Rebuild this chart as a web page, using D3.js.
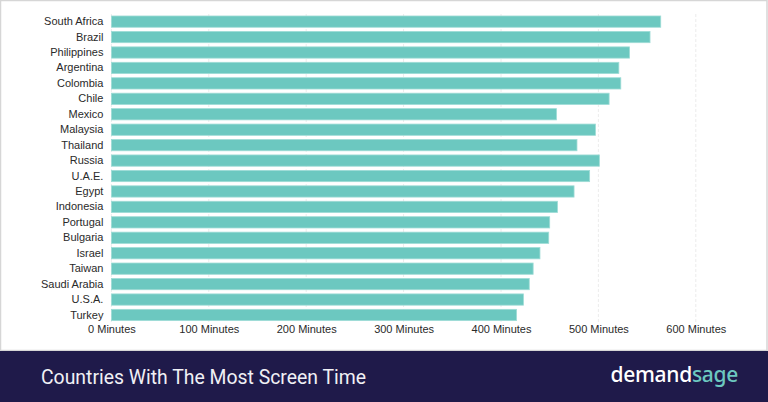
<!DOCTYPE html>
<html><head><meta charset="utf-8">
<script src="https://cdn.jsdelivr.net/npm/d3@7"></script>
<style>
html,body{margin:0;padding:0;background:#fff;}
svg{display:block;}
</style></head>
<body>
<svg id="chart" width="768" height="402"></svg>
<script>
const countries = ["South Africa","Brazil","Philippines","Argentina","Colombia","Chile","Mexico","Malaysia","Thailand","Russia","U.A.E.","Egypt","Indonesia","Portugal","Bulgaria","Israel","Taiwan","Saudi Arabia","U.S.A.","Turkey"];
const minutes = [564,553,532,521,523,511,457,497,478,501,491,475,458,450,449,440,433,429,423,416];
const tickValues = [0,100,200,300,400,500,600];
const tickLabels = ["0 Minutes","100 Minutes","200 Minutes","300 Minutes","400 Minutes","500 Minutes","600 Minutes"];
const title = "Countries With The Most Screen Time";
const brand = ["demand","sage"];

const W = 768, H = 402;
const svg = d3.select("#chart");
const font = "'Liberation Sans', Arial, Helvetica, sans-serif";

// frame
svg.append("rect").attr("x",0.5).attr("y",0.5).attr("width",W-1.5).attr("height",350)
  .attr("fill","#fff").attr("stroke","#d6d6d6").attr("stroke-width",1.5);

const x = d3.scaleLinear().domain([0,600]).range([111.4,695.8]);
const y = d3.scaleBand().domain(countries).range([13.9,322.7]).paddingInner(0.27).paddingOuter(0.135);

// gridlines
svg.append("g").selectAll("line").data(tickValues).join("line")
  .attr("x1",d=>x(d)).attr("x2",d=>x(d)).attr("y1",14).attr("y2",322)
  .attr("stroke","#ececec").attr("stroke-width",1).attr("stroke-dasharray","3,2");

// bars
svg.append("g").selectAll("rect").data(countries).join("rect")
  .attr("x",x(0)).attr("y",d=>y(d))
  .attr("width",(d,i)=>x(minutes[i])-x(0)).attr("height",y.bandwidth())
  .attr("fill","#6cc8c0").attr("stroke","#9fdcd6").attr("stroke-width",0.8);

// y axis labels
const yAxis = d3.axisLeft(y).tickSize(0).tickPadding(8);
const gy = svg.append("g").attr("transform",`translate(${x(0)},0)`).call(yAxis);
gy.select(".domain").remove();
gy.selectAll("text").attr("font-family",font).attr("font-size","11px").attr("fill","#2a2a2a");

// x axis labels
const xAxis = d3.axisBottom(x).tickValues(tickValues).tickSize(0).tickPadding(5)
  .tickFormat((d,i)=>tickLabels[i]);
const gx = svg.append("g").attr("transform",`translate(0,320)`).call(xAxis);
gx.select(".domain").remove();
gx.selectAll("text").attr("font-family",font).attr("font-size","11px").attr("fill","#2a2a2a");

// footer
svg.append("rect").attr("x",0).attr("y",351).attr("width",W).attr("height",H-351).attr("fill","#1f1a4a");
svg.append("text").attr("x",41).attr("y",384).text(title)
  .attr("font-family","Roboto, sans-serif").attr("font-weight",400).attr("font-size","19.4px")
  .attr("fill","#f0f0f5");
const logo = svg.append("text").attr("x",738).attr("y",382).attr("text-anchor","end")
  .attr("font-family","'Noto Sans', sans-serif").attr("font-weight",500).attr("font-size","21px").attr("letter-spacing","-0.3");
logo.append("tspan").text(brand[0]).attr("fill","#ffffff");
logo.append("tspan").text(brand[1]).attr("fill","#6cc8c0");
</script>
</body></html>
